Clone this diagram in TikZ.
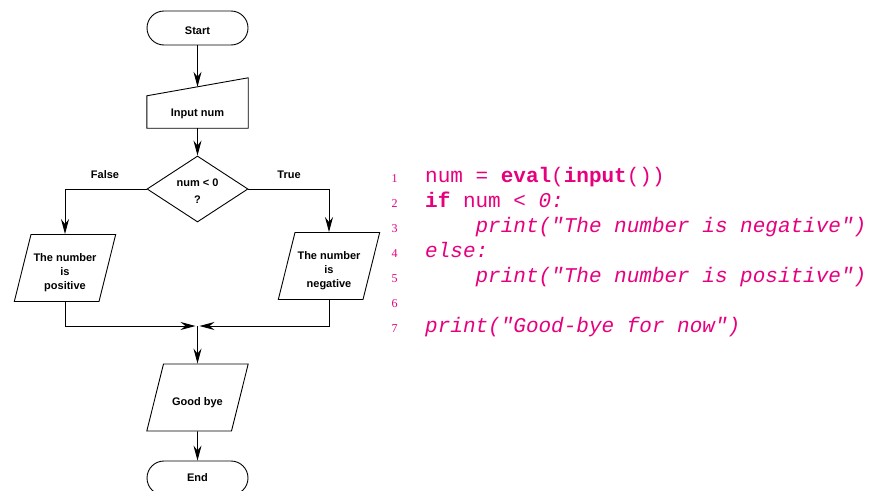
\documentclass[tikz,border=0pt]{standalone}
\usepackage{fontspec}
\setmainfont{Liberation Serif}
\setsansfont{Liberation Sans}
\setmonofont{Liberation Mono}
\usetikzlibrary{shapes.geometric, arrows.meta, positioning, calc}
\definecolor{codepink}{RGB}{230,0,126}
\newcommand{\iotext}[1]{\parbox[c][67pt][c]{68pt}{\centering\vspace{10pt}#1}}

\begin{document}
\begin{tikzpicture}[
        x=1pt, y=-1pt,
        % Estilo para inicio y fin
        termbox/.style={
                rectangle,
                rounded corners=17pt,
                draw,
                line width=0.9pt,
                minimum width=101pt,
                minimum height=34pt,
                font=\sffamily\bfseries\fontsize{11}{14}\selectfont
            },
        % Estilo para entrada/salida
        iobox/.style={
                trapezium,
                trapezium left angle=76,
                trapezium right angle=104,
                draw,
                line width=0.9pt,
                inner sep=0pt,
                font=\sffamily\bfseries\fontsize{11}{14}\selectfont
            },
        % Estilo para decision
        decbox/.style={
                diamond,
                aspect=1.5,
                draw,
                line width=0.9pt,
                minimum width=101pt,
                minimum height=66pt,
                inner sep=0pt,
                align=center,
                font=\sffamily\bfseries\fontsize{11}{14}\selectfont
            },
        flowtext/.style={
                font=\sffamily\bfseries\fontsize{11}{14}\selectfont
            },
        arr/.style={
                line width=0.9pt,
                -{Stealth[length=15pt, width=8pt, inset=5pt]}
            },
        codeline/.style={
                anchor=base west,
                inner sep=0pt,
                text=codepink,
                font=\ttfamily\fontsize{21}{25}\selectfont
            },
        linenum/.style={
                anchor=base,
                inner sep=0pt,
                text=codepink,
                font=\rmfamily\fontsize{12}{14}\selectfont
            }
    ]
    \useasboundingbox (0,0) rectangle (870,490);

    % DIAGRAMA DE FLUJO
    \node[termbox, text height=14pt] (start) at (197.5,28) {Start};
    \node[flowtext, minimum width=101pt, minimum height=32pt, inner sep=0pt, text height=12pt] (input) at (197.5,112) {Input num};
    \draw[line width=0.9pt] (input.south west) -- (input.south east)
        -- ($(input.north east)+(0,-18)$) -- (input.north west) -- cycle;
    \node[decbox] (dec) at (197.5,189) {\rule{0pt}{12pt}num < 0\\[3pt]?};
    \node[flowtext] (lblfalse) at (105,175) {False};
    \node[flowtext] (lbltrue) at (289,175) {True};
    \node[iobox] (pos) at (65,268) {\iotext{The number\\is\\positive}};
    \node[iobox] (neg) at (329,266) {\iotext{The number\\is\\negative}};
    \coordinate (merge) at (197.5,326);
    \node[iobox] (bye) at (197.5,397.5) {\iotext{Good bye}};
    \node[termbox] (end) at (197.5,478) {End};

    % Conectores
    \draw[arr] (start) -- ($(input.north)+(0,-9)$);
    \draw[arr] (input) -- (dec);
    \draw[arr] (dec.west) -| (pos.north -| pos.center);
    \draw[arr] (dec.east) -| (neg.north -| neg.center);
    \draw[arr, shorten >=2pt] (pos.south -| pos.center) |- (merge);
    \draw[arr, shorten >=2pt] (neg.south -| neg.center) |- (merge);
    \draw[arr] (merge) -- (bye.north);
    \draw[arr] (bye) -- (end);

    % CODIGO
    \node[linenum] (n1) at (394.5,182) {1};
    \node[linenum] (n2) at (394.5,207) {2};
    \node[linenum] (n3) at (394.5,232) {3};
    \node[linenum] (n4) at (394.5,257) {4};
    \node[linenum] (n5) at (394.5,282) {5};
    \node[linenum] (n6) at (394.5,307) {6};
    \node[linenum] (n7) at (394.5,332) {7};

    \node[codeline] (c1) at (425,182) {num = \textbf{eval}(\textbf{input}())};
    \node[codeline] (c2) at (425,207) {\textbf{if} num \textit{< 0:}};
    \node[codeline] (c3) at (425,232) {~~~~\textit{print("The number is negative")}};
    \node[codeline] (c4) at (425,257) {\textit{else:}};
    \node[codeline] (c5) at (425,282) {~~~~\textit{print("The number is positive")}};
    \node[codeline] (c7) at (425,332) {\textit{print("Good-bye for now")}};

\end{tikzpicture}
\end{document}
